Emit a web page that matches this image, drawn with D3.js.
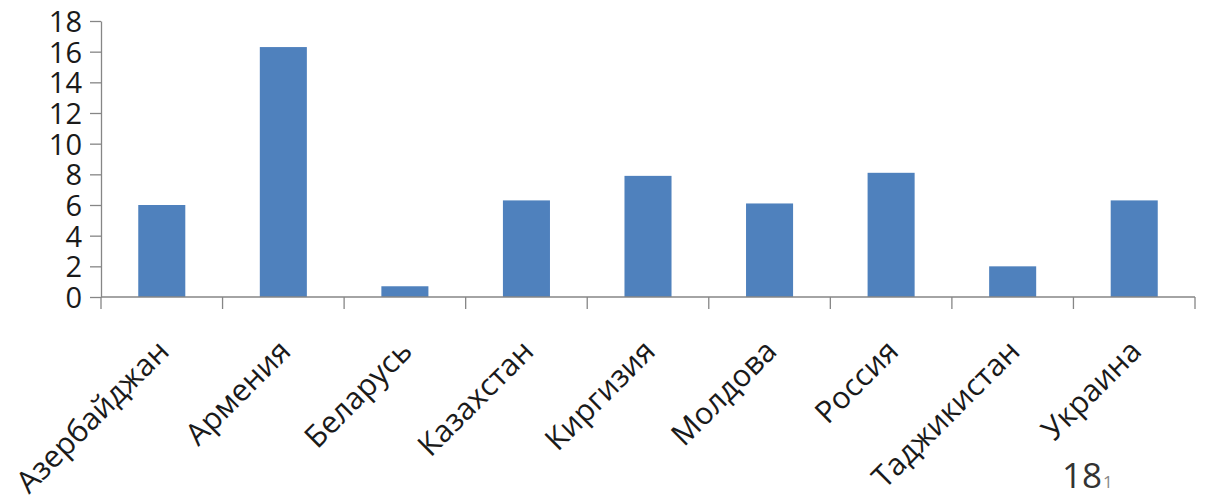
<!DOCTYPE html>
<html><head><meta charset="utf-8">
<script src="https://cdn.jsdelivr.net/npm/d3@7"></script>
<style>body{margin:0;background:#fff}svg{display:block}</style>
</head><body>
<svg id="c" width="1229" height="496"></svg>
<script>
const categories = ["Азербайджан","Армения","Беларусь","Казахстан","Киргизия","Молдова","Россия","Таджикистан","Украина"];
const values = [6.0, 16.3, 0.7, 6.3, 7.9, 6.1, 8.1, 2.0, 6.3];
const yTicks = [0,2,4,6,8,10,12,14,16,18];
const pageNumber = "18";
const pageMark = "1";

(function(){
const svg = d3.select("#c");
const mLeft = 101, mRight = 1195, mTop = 21, mBottom = 297;
const font = "'Open Sans', sans-serif";

const x = d3.scaleBand().domain(categories).range([mLeft, mRight]).paddingInner(0.613).paddingOuter(0.3065);
const y = d3.scaleLinear().domain([0, 18]).range([mBottom, mTop]);

svg.append("g").selectAll("rect").data(values).join("rect")
  .attr("x", (d,i) => x(categories[i]))
  .attr("y", d => y(d))
  .attr("width", x.bandwidth())
  .attr("height", d => y(0) - y(d))
  .attr("fill", "#4F81BD");

const yAxis = svg.append("g").attr("transform", `translate(${mLeft},0)`)
  .call(d3.axisLeft(y).tickValues(yTicks).tickSize(11).tickPadding(8).tickSizeOuter(0));
yAxis.select(".domain").attr("stroke", "#868686").attr("stroke-width", 1.3);
yAxis.selectAll(".tick line").attr("stroke", "#868686").attr("stroke-width", 1.3);
yAxis.selectAll("text").attr("font-family", font).attr("font-size", 29).attr("fill", "#1a1a1a").attr("dy", "0.36em");

const bounds = categories.map(c => x(c) - x.step()*x.paddingInner()/2).concat([mRight]);
const xg = svg.append("g");
xg.append("line").attr("x1", mLeft).attr("x2", mRight).attr("y1", mBottom).attr("y2", mBottom)
  .attr("stroke", "#868686").attr("stroke-width", 1.3);
xg.selectAll("line.t").data(bounds).join("line").attr("class","t")
  .attr("x1", d => d).attr("x2", d => d).attr("y1", mBottom).attr("y2", mBottom + 12)
  .attr("stroke", "#868686").attr("stroke-width", 1.3);

xg.selectAll("text").data(categories).join("text")
  .attr("transform", d => `translate(${x(d) + x.bandwidth()/2 + 9},${mBottom + 56}) rotate(-45)`)
  .attr("text-anchor", "end")
  .attr("font-family", font).attr("font-size", 30.5).attr("fill", "#1a1a1a")
  .text(d => d);

svg.append("text").attr("x", 1062).attr("y", 488).attr("font-family", font).attr("font-size", 35)
  .attr("fill", "#333").text(pageNumber);
svg.append("text").attr("x", 1103).attr("y", 488).attr("font-family", font).attr("font-size", 17)
  .attr("fill", "#888").text(pageMark);
})();
</script>
</body></html>
